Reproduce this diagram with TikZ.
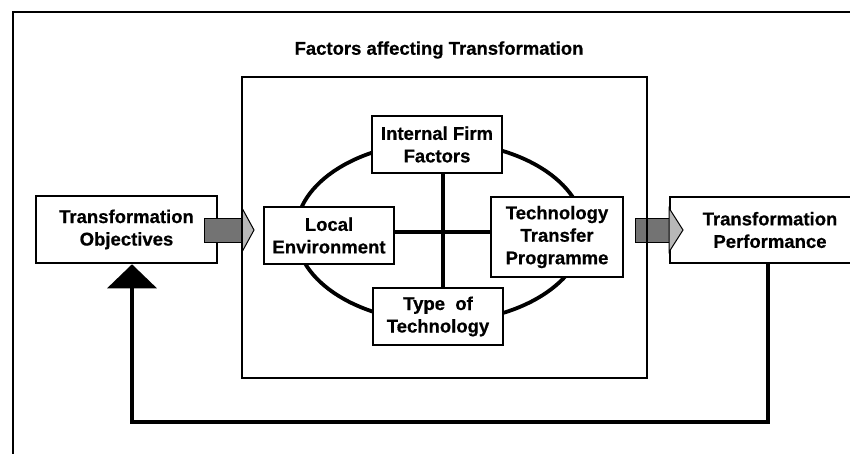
\documentclass[tikz,border=0pt]{standalone}
\usepackage{fontspec}
\setmainfont{Liberation Sans}
\newfontfamily\heavyfont[FakeBold=0.6]{Liberation Sans Bold}
\usetikzlibrary{arrows.meta}
\begin{document}
\begin{tikzpicture}[x=1pt,y=-1pt,
  lbl/.style={font=\heavyfont\fontsize{18.5}{22.5}\selectfont, align=center},
  factor/.style={lbl, draw, line width=2.5pt, fill=white, inner sep=0pt},
  body/.style={fill=black!55, draw=black, line width=0.8pt},
  head/.style={fill=black!28, draw=black, line width=1pt},
  thick line/.style={line width=3.8pt}
]
\clip (0,0) rectangle (850,453);
\fill[white] (0,0) rectangle (850,453);

% outer frame
\draw[line width=2.8pt] (13,12) rectangle (880,480);

% heading
\node[lbl] (title) at (439,50) {Factors affecting Transformation};

% outer boxes
\node[factor, minimum width=181pt, minimum height=67pt] (obj) at (126.5,229.5) {Transformation\\Objectives};
\node[factor, minimum width=200pt, minimum height=66pt] (perf) at (770,230) {Transformation\\Performance};

% block arrows into and out of the factors box
\draw[body] (204,218) rectangle (242,242);
\draw[head] (242,208) -- (254,230) -- (242,252) -- cycle;
\draw[body] (635,218) rectangle (669,242);
\draw[head] (669,208) -- (683,230) -- (669,252) -- cycle;

% factors box
\draw[line width=2.8pt] (242,77) rectangle (647,378);

% ellipse linking the four factors
\draw[thick line] (440,232) ellipse [x radius=144pt, y radius=90pt];

\node[factor, minimum width=130pt, minimum height=57pt] (ief) at (437,144.5) {Internal Firm\\Factors};
\node[factor, minimum width=130pt, minimum height=57pt] (loc) at (329,235.5) {Local\\Environment};
\node[factor, minimum width=132pt, minimum height=80pt] (ttp) at (557,237) {Technology\\Transfer\\Programme};
\node[factor, minimum width=130pt, minimum height=57pt] (tot) at (438,316.5) {Type\ \ of\\Technology};

% cross joining opposite factors
\coordinate (hub) at (443,232);
\draw[thick line] (hub |- ief.south) -- (hub |- tot.north);
\draw[thick line] (loc.east |- hub) -- (ttp.west |- hub);

% feedback loop from performance back to objectives
\coordinate (fbR) at (768,422);
\coordinate (fbL) at (132,422);
\draw[thick line, -{Triangle[width=49pt,length=24pt]}]
  (fbR |- perf.south) -- (fbR) -- (fbL) -- (fbL |- obj.south);
\end{tikzpicture}
\end{document}
